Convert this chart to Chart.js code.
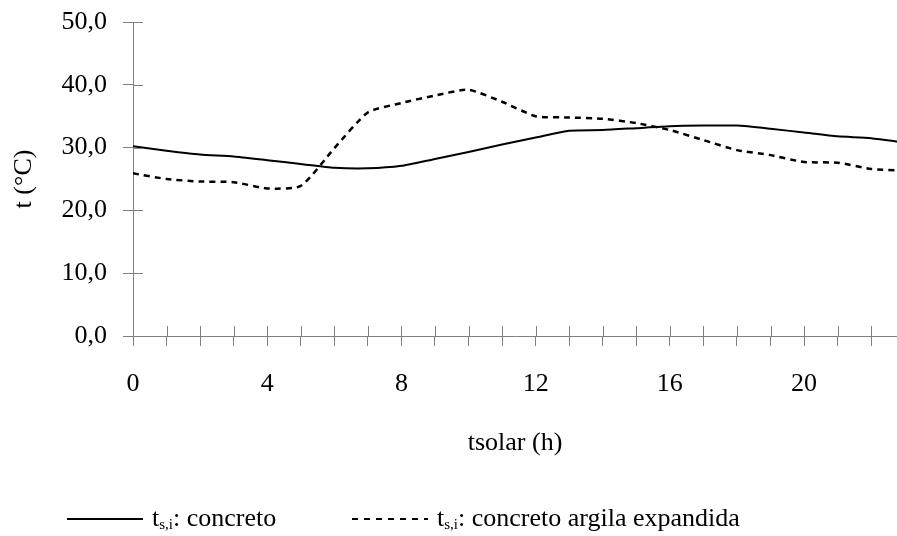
<!DOCTYPE html>
<html>
<head>
<meta charset="utf-8">
<script src="https://cdn.jsdelivr.net/npm/chart.js@4"></script>
<style>
  body { margin: 0; background: #fff; }
  #wrap { position: relative; width: 897px; height: 536px; }
  .leg { position: absolute; font-family: "Liberation Serif", "DejaVu Serif", serif; font-size: 26px; line-height: 30px; color: #000; white-space: nowrap; }
  .leg sub { font-size: 15px; vertical-align: -3px; line-height: 0; }
  .sw { position: absolute; height: 2px; }
</style>
</head>
<body>
<div id="wrap">
  <canvas id="c"></canvas>
  <div class="sw" style="left:67px; top:518px; width:76px; background:#000;"></div>
  <div class="leg" style="left:152px; top:503px;">t<sub>s,i</sub>: concreto</div>
  <div class="sw" style="left:352px; top:518px; width:76px; background:repeating-linear-gradient(to right, #000 0 6px, transparent 6px 12px);"></div>
  <div class="leg" style="left:437px; top:503px;">t<sub>s,i</sub>: concreto argila expandida</div>
</div>
<script>
//hours of the day
var hours = [0,1,2,3,4,5,6,7,8,9,10,11,12,13,14,15,16,17,18,19,20,21,22,23];

//surface temperature, concrete slab
var concreto = [30.2,29.5,28.9,28.6,28.0,27.4,26.8,26.7,27.1,28.2,29.3,30.5,31.6,32.7,32.8,33.1,33.4,33.5,33.5,33.0,32.4,31.8,31.5,30.8];

//surface temperature, expanded clay concrete
var argila = [25.9,25.0,24.6,24.5,23.5,23.9,29.9,35.6,37.1,38.3,39.2,37.3,35.0,34.8,34.6,33.9,32.8,31.2,29.6,28.8,27.7,27.6,26.6,26.3];

//axis ranges
var yTicks = [0,10,20,30,40,50];
var xLabelEvery = 4;

var AXIS = "rgb(128,128,128)";
var FONT = { family: "'Liberation Serif', 'DejaVu Serif', serif", size: 26 };

//build the points
var pts1 = [], pts2 = [];
for( var i = 0; i < hours.length; i++ ){
    pts1.push( {x: hours[i], y: concreto[i]} );
    pts2.push( {x: hours[i], y: argila[i]} );
}

//draw the inner half of the tick marks
var innerTicks = {
    id: 'innerTicks',
    afterDraw: function(chart){
        var ctx = chart.ctx, xs = chart.scales.x, ys = chart.scales.y;
        ctx.save();
        ctx.strokeStyle = AXIS;
        ctx.lineWidth = 1;
        ctx.beginPath();
        ys.ticks.forEach(function(t){
            var py = Math.round( ys.getPixelForValue(t.value) ) + 0.5;
            ctx.moveTo( ys.right, py );
            ctx.lineTo( ys.right + 10, py );
        });
        xs.ticks.forEach(function(t){
            var px = Math.round( xs.getPixelForValue(t.value) ) + 0.5;
            ctx.moveTo( px, xs.top );
            ctx.lineTo( px, xs.top - 10 );
        });
        ctx.stroke();
        ctx.restore();
    }
};

new Chart( document.getElementById('c'), {
    type: 'line',
    data: {
        datasets: [{
            label: 't s,i: concreto',
            data: pts1,
            borderColor: '#000',
            borderWidth: 2,
            pointRadius: 0,
            tension: 0.2
        },{
            label: 't s,i: concreto argila expandida',
            data: pts2,
            borderColor: '#000',
            borderWidth: 2.5,
            borderDash: [6,5],
            pointRadius: 0,
            tension: 0.2
        }]
    },
    options: {
        responsive: true,
        maintainAspectRatio: false,
        animation: false,
        layout: { padding: { top: 22, left: 0, right: 0, bottom: 0 } },
        plugins: {
            legend: { display: false },
            tooltip: { enabled: false }
        },
        scales: {
            x: {
                type: 'linear',
                min: 0,
                max: 22.77,
                afterFit: function(s){ s.height = 200; },
                grid: { drawOnChartArea: false, drawTicks: true, tickLength: 10, color: AXIS },
                border: { color: AXIS, width: 1 },
                ticks: {
                    stepSize: 1,
                    includeBounds: false,
                    autoSkip: false,
                    maxRotation: 0,
                    padding: 23,
                    color: '#000',
                    font: FONT,
                    callback: function(v){ return v % xLabelEvery === 0 ? String(v) : ''; }
                },
                title: { display: true, text: 'tsolar (h)', color: '#000', font: FONT, padding: { top: 0, bottom: 77 } }
            },
            y: {
                min: yTicks[0],
                max: yTicks[yTicks.length - 1],
                afterFit: function(s){ s.width = 133; },
                grid: { drawOnChartArea: false, drawTicks: true, tickLength: 10, color: AXIS },
                border: { color: AXIS, width: 1 },
                ticks: {
                    stepSize: 10,
                    padding: 16,
                    color: '#000',
                    font: { family: FONT.family, size: 26, lineHeight: 0.4 },
                    callback: function(v){ return v.toFixed(1).replace('.', ','); }
                },
                title: { display: true, text: 't (°C)', color: '#000', font: FONT, padding: { top: 9, bottom: 0 } }
            }
        }
    },
    plugins: [innerTicks]
});
</script>
</body>
</html>
